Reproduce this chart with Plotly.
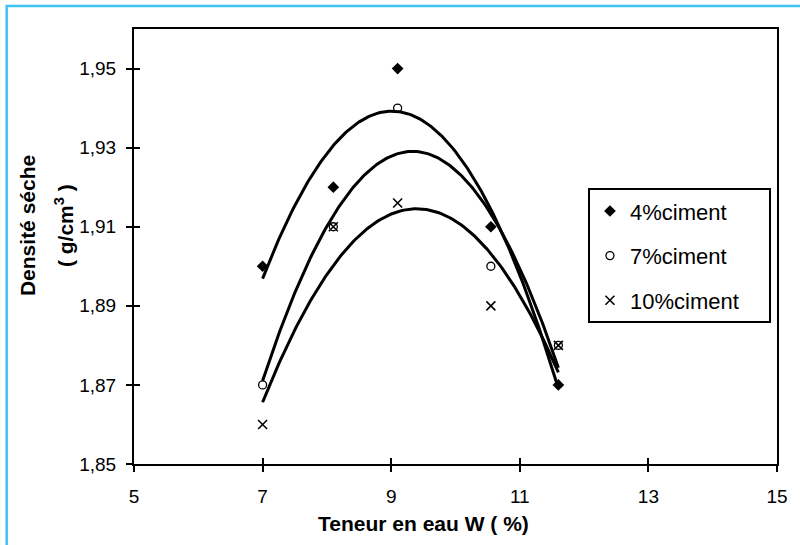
import numpy as np
import plotly.graph_objects as go

# Data
w_pct = [7.0, 8.1, 9.1, 10.55, 11.6]
dens_4 = [1.90, 1.92, 1.95, 1.91, 1.87]
dens_7 = [1.87, 1.91, 1.94, 1.90, 1.88]
dens_10 = [1.86, 1.91, 1.916, 1.89, 1.88]
series_names = ["4%ciment", "7%ciment", "10%ciment"]
x_ticks = [5, 7, 9, 11, 13, 15]
y_ticks = [1.85, 1.87, 1.89, 1.91, 1.93, 1.95]

FONT = "Arial, Liberation Sans, sans-serif"
PAD = "\u00a0" * 4
fig = go.Figure()

series = [
    (series_names[0], dens_4, dict(symbol="diamond", size=9, color="black")),
    (series_names[1], dens_7, dict(symbol="circle-open", size=8, color="black", line=dict(width=1.3, color="black"))),
    (series_names[2], dens_10, dict(symbol="x-thin-open", size=9, color="black", line=dict(width=1.6, color="black"))),
]

# polynomial (order 2) trendlines
xf = np.linspace(min(w_pct), max(w_pct), 200)
for name, ys, mk in series:
    c = np.polyfit(w_pct, ys, 2)
    fig.add_trace(go.Scatter(x=xf, y=np.polyval(c, xf), mode="lines",
                             line=dict(color="black", width=3), showlegend=False,
                             hoverinfo="skip"))

for i, (name, ys, mk) in enumerate(series):
    fig.add_trace(go.Scatter(x=w_pct, y=ys, mode="markers", name=name + PAD, marker=mk,
                             legendgroup=f"g{i}"))

axis_common = dict(showgrid=False, zeroline=False, showline=True, linecolor="black",
                   linewidth=2, ticks="outside", ticklen=6, tickwidth=1.5, tickcolor="black",
                   tickfont=dict(family=FONT, size=19, color="black"))

fig.update_layout(
    width=800, height=545,
    margin=dict(l=134, r=14, t=29, b=81),
    paper_bgcolor="white", plot_bgcolor="white",
    separators=", ",
    xaxis=dict(range=[5, 15], tickvals=x_ticks, mirror=True, ticklabelstandoff=8, **axis_common),
    yaxis=dict(range=[1.85, 1.96], tickvals=y_ticks, tickformat=".2f", mirror=True,
               ticklabelstandoff=6, **axis_common),
    xaxis2=dict(range=[5, 15], tickvals=x_ticks, overlaying="x", anchor="y", side="bottom",
                ticks="inside", ticklen=6, tickwidth=1.5, tickcolor="black",
                showticklabels=False, showgrid=False, zeroline=False, showline=False),
    yaxis2=dict(range=[1.85, 1.96], tickvals=y_ticks, overlaying="y", anchor="x", side="left",
                ticks="inside", ticklen=6, tickwidth=1.5, tickcolor="black",
                showticklabels=False, showgrid=False, zeroline=False, showline=False),
    legend=dict(x=0.706, y=0.634, xanchor="left", yanchor="top",
                bordercolor="black", borderwidth=2, bgcolor="white",
                font=dict(family=FONT, size=22, color="black"),
                tracegroupgap=13, itemwidth=30),
    showlegend=True,
)

# dummy invisible trace to activate overlay axes
fig.add_trace(go.Scatter(x=[None], y=[None], xaxis="x2", yaxis="y2", showlegend=False))

fig.add_annotation(text="<b>Teneur en eau W ( %)</b>", xref="paper", yref="paper",
                   x=0.451, y=-0.136, xanchor="center", yanchor="middle", showarrow=False,
                   font=dict(family=FONT, size=21, color="black"))
fig.add_annotation(text="<b>Densité séche</b>", xref="paper", yref="paper",
                   x=0, xshift=-107, y=0.547, xanchor="center", yanchor="middle",
                   textangle=-90, showarrow=False,
                   font=dict(family=FONT, size=21, color="black"))
fig.add_annotation(text="<b>( g/cm<sup>3</sup> )</b>", xref="paper", yref="paper",
                   x=0, xshift=-70, y=0.547, xanchor="center", yanchor="middle",
                   textangle=-90, showarrow=False,
                   font=dict(family=FONT, size=21, color="black"))

# outer light-blue frame
fig.add_shape(type="rect", xref="paper", yref="paper", x0=-0.198, x1=1.4, y0=-0.4, y1=1.053,
              line=dict(color="#3FC3F2", width=2.5), fillcolor="rgba(0,0,0,0)", layer="below")

fig.write_html("out.html")
